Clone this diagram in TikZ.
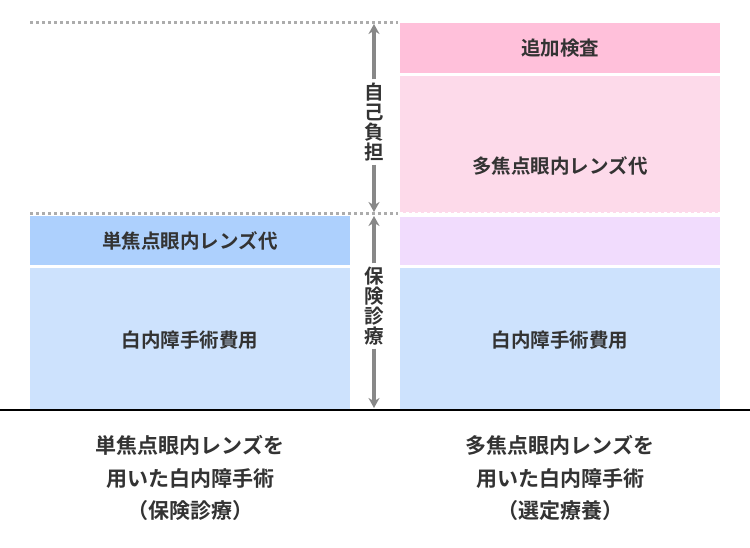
\documentclass[tikz,border=0pt]{standalone}
\usepackage{fontspec}
\setmainfont{Noto Sans CJK JP Bold}
\usetikzlibrary{arrows.meta}
\definecolor{pinkA}{HTML}{FFC0DA}
\definecolor{pinkB}{HTML}{FDDAEA}
\definecolor{lavender}{HTML}{F1DCFD}
\definecolor{blueA}{HTML}{ADD0FD}
\definecolor{blueB}{HTML}{CDE2FD}
\definecolor{txt}{HTML}{333333}
\definecolor{arrowgray}{HTML}{888888}
\tikzset{
  block/.style={inner sep=0pt, font=\fontsize{19.5}{20}\selectfont, text=txt},
  caption/.style={align=center, font=\fontsize{21}{32.5}\selectfont, text=txt},
  vlabel/.style={align=center, font=\fontsize{19.5}{20}\selectfont, text=txt},
  span/.style={arrowgray, line width=3.5pt, -{Stealth[length=10pt,width=11pt]}}
}
\begin{document}
\begin{tikzpicture}[x=1pt,y=-1pt]
  \useasboundingbox (0,0) rectangle (750,548);
  % right column
  \fill [pinkA] (400,23) rectangle (720,73);
  \fill [pinkB] (400,76) rectangle (720,213);
  \fill [lavender] (400,217) rectangle (720,265);
  \fill [blueB] (400,268) rectangle (720,410);
  % left column
  \fill [blueA] (30,216) rectangle (350,265);
  \fill [blueB] (30,268) rectangle (350,410);
  % dotted levels
  \draw [arrowgray!70, line width=3pt, dash pattern=on 3pt off 3pt] (30,23) -- (398,23);
  \draw [arrowgray!70, line width=3pt, dash pattern=on 3pt off 3pt] (30,214) -- (398,214);
  \draw [white, line width=3pt, dash pattern=on 3pt off 3pt] (400,214) -- (720,214);
  \draw [black, line width=2.5pt] (0,410) -- (750,410);
  % texts
  \node [block] (extra) at (560,48) {追加検査};
  \node [block] (multi) at (560,166) {多焦点眼内レンズ代};
  \node [block] (single) at (190,241) {単焦点眼内レンズ代};
  \node [block] (surgL) at (190,340) {白内障手術費用};
  \node [block] (surgR) at (560,340) {白内障手術費用};
  % vertical arrows
  \node [vlabel] (self) at (374,122) {自\\己\\負\\担};
  \node [vlabel] (ins) at (374,306) {保\\険\\診\\療};
  \coordinate (t1) at (374,24);
  \coordinate (b1) at (374,212);
  \coordinate (t2) at (374,216);
  \coordinate (b2) at (374,408);
  \draw [span] (self.north) -- (t1);
  \draw [span] (self.south) -- (b1);
  \draw [span] (ins.north) -- (t2);
  \draw [span] (ins.south) -- (b2);
  % captions
  \node [caption] (capL) at (190,478) {単焦点眼内レンズを\\用いた白内障手術\\（保険診療）};
  \node [caption] (capR) at (560,478) {多焦点眼内レンズを\\用いた白内障手術\\（選定療養）};
\end{tikzpicture}
\end{document}
